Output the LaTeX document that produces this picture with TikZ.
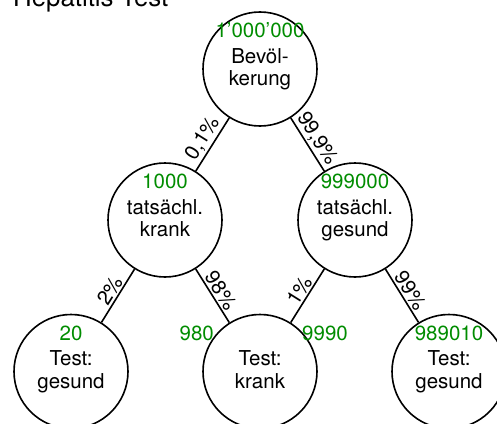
\documentclass[tikz,border=0pt]{standalone}
\usepackage{fontspec}
\setmainfont{TeX Gyre Heros}
\definecolor{countgreen}{RGB}{0,140,0}
\newcommand\firstline{\rule{0pt}{15pt}}
\newcommand\lastline{\rule[-4.5pt]{0pt}{4.5pt}}
\begin{document}
\begin{tikzpicture}[x=1pt,y=1pt,
  state/.style={circle, draw, line width=1.6pt, minimum size=114pt, inner sep=0pt,
    align=center, font=\fontsize{20.5}{22.5}\selectfont},
  count/.style={text=countgreen, font=\fontsize{20.5}{22.5}\selectfont, inner sep=0pt, anchor=base},
  branch/.style={line width=1.6pt},
  pct/.style={midway, sloped, above, inner sep=1.5pt, font=\fontsize{20.5}{22.5}\selectfont}]
\useasboundingbox (0,0) rectangle (497,-423);

\node[anchor=base west, inner sep=0pt, font=\fontsize{25.8}{28}\selectfont] (title) at (13,-6) {Hepatitis Test};

% probability tree nodes
\node[state] (root) at (260,-69)    {\firstline Bevöl-\\kerung\lastline};
\node[state] (sick) at (165,-220)   {\firstline tatsächl.\\krank\lastline};
\node[state] (well) at (355,-220)   {\firstline tatsächl.\\gesund\lastline};
\node[state] (neg1) at (71,-371.5)  {\firstline Test:\\gesund\lastline};
\node[state] (pos)  at (260,-371.5) {\firstline Test:\\krank\lastline};
\node[state] (neg2) at (449,-371.5) {\firstline Test:\\gesund\lastline};

% head counts
\node[count] (nroot) at ([yshift=31.5pt]root.center) {1'000'000};
\node[count] (nsick) at ([yshift=31.5pt]sick.center) {1000};
\node[count] (nwell) at ([yshift=31.5pt]well.center) {999000};
\node[count] (nneg1) at ([yshift=31pt]neg1.center) {20};
\node[count] (nneg2) at ([yshift=31pt]neg2.center) {989010};
\node[count, anchor=base east] (npos1) at ([xshift=-46pt,yshift=31pt]pos.center) {980};
\node[count, anchor=base west] (npos2) at ([xshift=42pt,yshift=31pt]pos.center) {9990};

% branches with their rates
\draw[branch] (root) -- node[pct] {0,1\%} (sick);
\draw[branch] (root) -- node[pct] {99,9\%} (well);
\draw[branch] (sick) -- node[pct] {2\%} (neg1);
\draw[branch] (sick) -- node[pct] {98\%} (pos);
\draw[branch] (well) -- node[pct] {1\%} (pos);
\draw[branch] (well) -- node[pct] {99\%} (neg2);
\end{tikzpicture}
\end{document}
